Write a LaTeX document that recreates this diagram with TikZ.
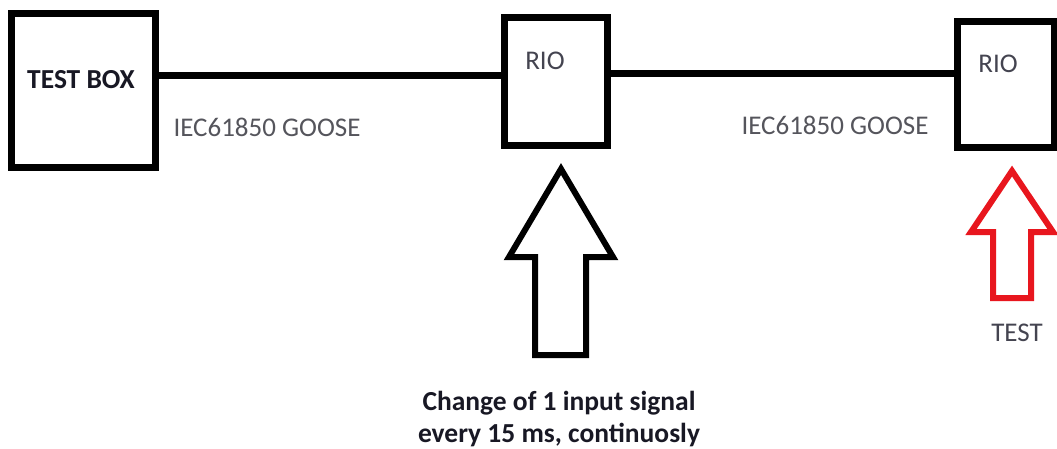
\documentclass[tikz,border=0pt]{standalone}
\usepackage{fontspec}
\setmainfont{Carlito}
\definecolor{labgray}{RGB}{85,85,92}
\definecolor{riogray}{RGB}{68,68,80}
\definecolor{dark}{RGB}{24,24,36}
\definecolor{arrred}{RGB}{232,22,30}
\tikzset{
  box/.style={draw=black, line width=7pt, rectangle, inner sep=0pt, fill=white},
  wire/.style={draw=black, line width=7pt},
  txt/.style={inner sep=0pt, font=\fontsize{27}{32}\selectfont},
  boldtxt/.style={inner sep=0pt, font=\fontsize{27.5}{32}\selectfont\bfseries},
  blockarrow/.style={line width=6pt, line join=miter, miter limit=10},
}
\begin{document}
\begin{tikzpicture}[x=1pt,y=-1pt]
\useasboundingbox[fill=white] (0,0) rectangle (1057,448);
% boxes
\node[box, minimum width=143.5pt, minimum height=153.5pt] (tb) at (83.25,90.25) {};
\node[box, minimum width=103.5pt, minimum height=128pt] (rio1) at (555.75,81.5) {};
\node[box, minimum width=97pt, minimum height=125.5pt] (rio2) at (1005.5,84.25) {};
% box texts
\node[boldtxt, text=dark] (tbtext) at (81,80) {TEST BOX};
\node[txt, text=riogray] (rio1text) at (545,61) {RIO};
\node[txt, text=riogray] (rio2text) at (998,64) {RIO};
% connectors
\draw[wire] (tb.east |- 0,75) -- (rio1.west |- 0,75);
\draw[wire] (rio1.east |- 0,73) -- (rio2.west |- 0,73);
% connector labels
\node[txt, text=labgray] (goose1) at (267,127) {IEC61850 GOOSE};
\node[txt, text=labgray] (goose2) at (835,125) {IEC61850 GOOSE};
% black block arrow
\draw[blockarrow, draw=black] (561,169) -- (613,257) -- (586,257) -- (586,355) -- (535,355) -- (535,257) -- (509,257) -- cycle;
% red block arrow
\draw[blockarrow, draw=arrred] (1012,171) -- (1053,232) -- (1031,232) -- (1031,298) -- (993,298) -- (993,232) -- (971,232) -- cycle;
% bottom texts
\node[txt, text=riogray] (testlbl) at (1017,333) {TEST};
\node[boldtxt, text=dark, align=center] (change) at (559,419) {Change of 1 input signal\\every 15 ms, continuosly};
\end{tikzpicture}
\end{document}
